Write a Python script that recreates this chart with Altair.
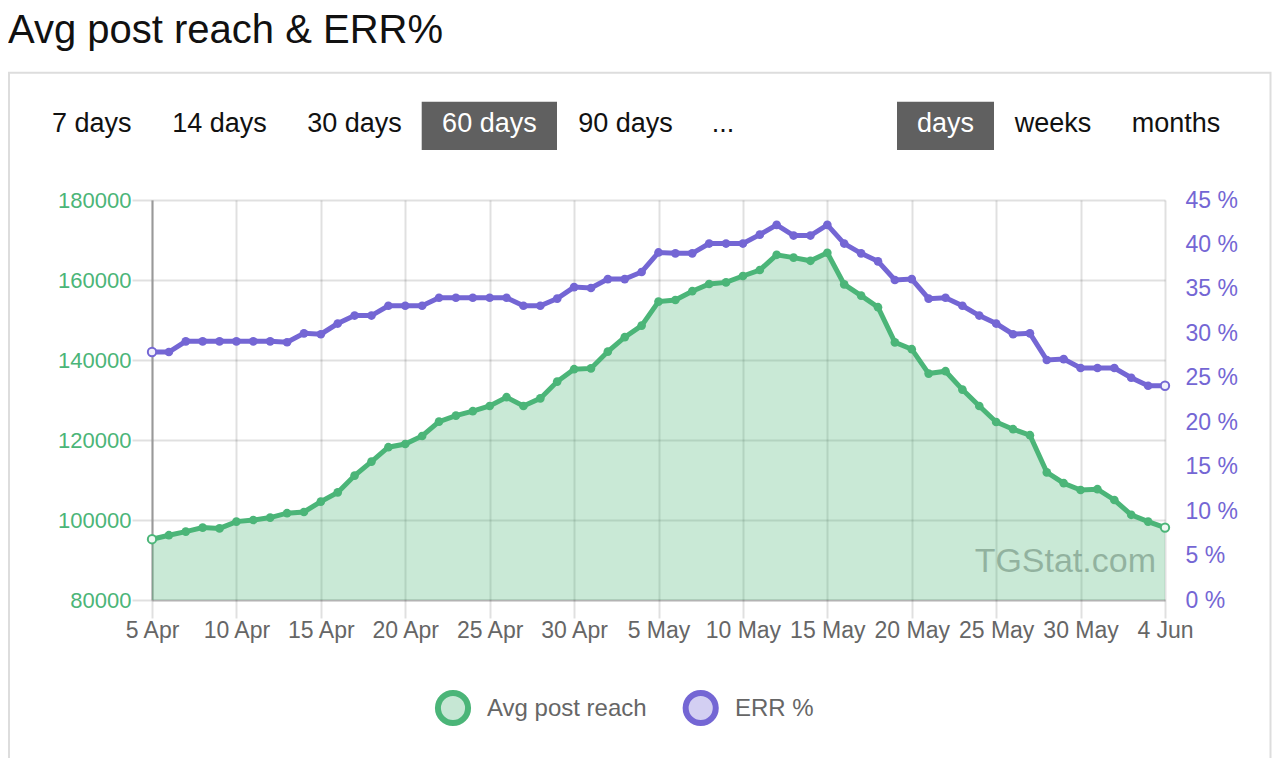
import altair as alt
import pandas as pd

# ---------------- data ----------------
dates = [d.strftime("%Y-%m-%d") for d in pd.date_range("2023-04-05", "2023-06-04", freq="D")]

reach = [95200, 96200, 97100, 98100, 97900, 99600, 100000, 100600, 101700, 102000,
         104600, 106900, 111100, 114600, 118200, 119000, 121000, 124600, 126100, 127200,
         128500, 130700, 128500, 130400, 134600, 137700, 137900, 142100, 145700, 148600,
         154600, 155000, 157200, 159000, 159400, 161000, 162500, 166300, 165600, 164800,
         166800, 158900, 156100, 153200, 144400, 142700, 136600, 137200, 132600, 128500,
         124500, 122700, 121200, 111900, 109200, 107500, 107700, 105000, 101300, 99600,
         98100]

err = [27.9, 27.9, 29.1, 29.1, 29.1, 29.1, 29.1, 29.1, 29.0, 30.0,
       29.9, 31.1, 32.0, 32.0, 33.1, 33.1, 33.1, 34.0, 34.0, 34.0,
       34.0, 34.0, 33.1, 33.1, 33.9, 35.2, 35.1, 36.1, 36.1, 36.9,
       39.1, 39.0, 39.0, 40.1, 40.1, 40.1, 41.1, 42.2, 41.0, 41.0,
       42.2, 40.1, 39.0, 38.1, 36.0, 36.1, 33.9, 34.0, 33.1, 32.0,
       31.1, 29.9, 30.0, 27.0, 27.1, 26.1, 26.1, 26.1, 25.0, 24.1,
       24.1]

tick_dates = ["2023-04-05", "2023-04-10", "2023-04-15", "2023-04-20", "2023-04-25",
              "2023-04-30", "2023-05-05", "2023-05-10", "2023-05-15", "2023-05-20",
              "2023-05-25", "2023-05-30", "2023-06-04"]
reach_ticks = [80000, 100000, 120000, 140000, 160000, 180000]
err_ticks = [0, 5, 10, 15, 20, 25, 30, 35, 40, 45]

chart_title = "Avg post reach & ERR%"
periods = ["7 days", "14 days", "30 days", "60 days", "90 days", "..."]
units = ["days", "weeks", "months"]
series_names = ["Avg post reach", "ERR %"]
watermark = "TGStat.com"

# ---------------- styles / layout ----------------
FONT = "Liberation Sans"
GREEN = "#4bb578"
GREEN_T = "#c6e7d4"
PURPLE = "#7466d4"
PURPLE_T = "#d3cff2"
W, H = 1013, 400

df = pd.DataFrame({"date": dates, "reach": reach, "err": err})
df["edge"] = [i in (0, len(dates) - 1) for i in range(len(dates))]


def dt(s):
    y, m, d = map(int, s.split("-"))
    return alt.DateTime(year=y, month=m, date=d, utc=True)


x_enc = alt.X(
    "date:T",
    title=None,
    scale=alt.Scale(type="utc", domain=[dt(dates[0]), dt(dates[-1])], nice=False),
    axis=alt.Axis(
        values=[dt(s) for s in tick_dates], format="%-d %b",
        grid=True, gridColor="#000", gridOpacity=0.12, gridWidth=2,
        ticks=True, tickSize=18, tickColor="#000", tickOpacity=0.12, tickWidth=2,
        domain=True, domainColor="#000", domainOpacity=0.2, domainWidth=2,
        labelColor="#666", labelFont=FONT, labelFontSize=23, labelPadding=1,
        labelFlush=False, labelOverlap=False,
    ),
)

y_reach = alt.Y(
    "reach:Q",
    title=None,
    scale=alt.Scale(domain=[80000, 180000], zero=False, nice=False),
    axis=alt.Axis(
        orient="left", values=reach_ticks, format="d",
        grid=True, gridColor="#000", gridOpacity=0.12, gridWidth=2,
        ticks=True, tickSize=20, tickColor="#000", tickOpacity=0.12, tickWidth=2,
        domain=True, domainColor="#999", domainWidth=2,
        labelColor=GREEN, labelFont=FONT, labelFontSize=22, labelPadding=1,
        labelFlush=False, labelOverlap=False,
    ),
)

y_err = alt.Y(
    "err:Q",
    title=None,
    scale=alt.Scale(domain=[0, 45], nice=False),
    axis=alt.Axis(
        orient="right", values=err_ticks, labelExpr="datum.value + ' %'",
        grid=False, ticks=False, domain=False,
        labelColor=PURPLE, labelFont=FONT, labelFontSize=23, labelPadding=20,
        labelFlush=False, labelOverlap=False,
    ),
)

base = alt.Chart(df)

green = alt.layer(
    base.mark_area(color=GREEN, opacity=0.3).encode(x=x_enc, y=y_reach, y2=alt.Y2(datum=reach_ticks[0])),
    base.mark_line(color=GREEN, strokeWidth=5).encode(x=x_enc, y=y_reach),
    base.transform_filter("!datum.edge").mark_circle(color=GREEN, size=75, opacity=1).encode(x=x_enc, y=y_reach),
    base.transform_filter("datum.edge").mark_circle(fill="#eef8f2", stroke=GREEN, strokeWidth=2, size=70, opacity=1).encode(x=x_enc, y=y_reach),
)

purple = alt.layer(
    base.mark_line(color=PURPLE, strokeWidth=5).encode(x=x_enc, y=y_err),
    base.transform_filter("!datum.edge").mark_circle(color=PURPLE, size=75, opacity=1).encode(x=x_enc, y=y_err),
    base.transform_filter("datum.edge").mark_circle(fill="#f1effb", stroke=PURPLE, strokeWidth=2, size=70, opacity=1).encode(x=x_enc, y=y_err),
)

one = alt.Data(values=[{"k": 0}])


def txt(s, x, y, size, color, align="left", opacity=1.0):
    return alt.Chart(one).mark_text(
        text=s, align=align, baseline="alphabetic", font=FONT,
        fontSize=size, color=color, opacity=opacity,
    ).encode(x=alt.value(x), y=alt.value(y))


def rect(x, x2, y, y2, fill):
    return alt.Chart(one).mark_rect(color=fill).encode(
        x=alt.value(x), x2=alt.value(x2), y=alt.value(y), y2=alt.value(y2))


deco = []
# outer box
deco.append(alt.Chart(one).mark_rect(filled=False, color="#dddddd", strokeWidth=2).encode(
    x=alt.value(-143), x2=alt.value(1118.5), y=alt.value(-127.3), y2=alt.value(590)))
# title
deco.append(txt(chart_title, -144, -157, 40, "#111"))
# period buttons
period_x = [-60.3, 67.5, 202.5, 337.4, 473.5, 571]
deco.append(rect(269.7, 405, -98.3, -50, "#606060"))
for label, px in zip(periods, period_x):
    deco.append(txt(label, px, -68, 27, "#fff" if label == "60 days" else "#111", align="center"))
# unit buttons
unit_x = [793.5, 901, 1024]
deco.append(rect(745, 842, -98.3, -50, "#606060"))
for label, ux in zip(units, unit_x):
    deco.append(txt(label, ux, -68, 27, "#fff" if label == "days" else "#111", align="center"))
# watermark
deco.append(txt(watermark, 1004, 371.5, 34, "#000", align="right", opacity=0.3))

# legend
legend = [
    alt.Chart(one).mark_circle(fill=GREEN_T, stroke=GREEN, strokeWidth=6, size=908, opacity=1).encode(
        x=alt.value(301), y=alt.value(508)),
    txt(series_names[0], 335, 516, 24, "#666"),
    alt.Chart(one).mark_circle(fill=PURPLE_T, stroke=PURPLE, strokeWidth=6, size=908, opacity=1).encode(
        x=alt.value(548.7), y=alt.value(508)),
    txt(series_names[1], 583, 516, 24, "#666"),
]

chart = alt.layer(
    *deco, green, purple, *legend
).resolve_scale(
    y="independent"
).properties(
    width=W, height=H,
    autosize=alt.AutoSizeParams(type="none"),
    padding={"left": 144, "top": 192, "right": 109, "bottom": 158},
    background="white",
).configure_view(stroke=None)

chart.save("out.html", embed_options={"renderer": "svg", "actions": False})
